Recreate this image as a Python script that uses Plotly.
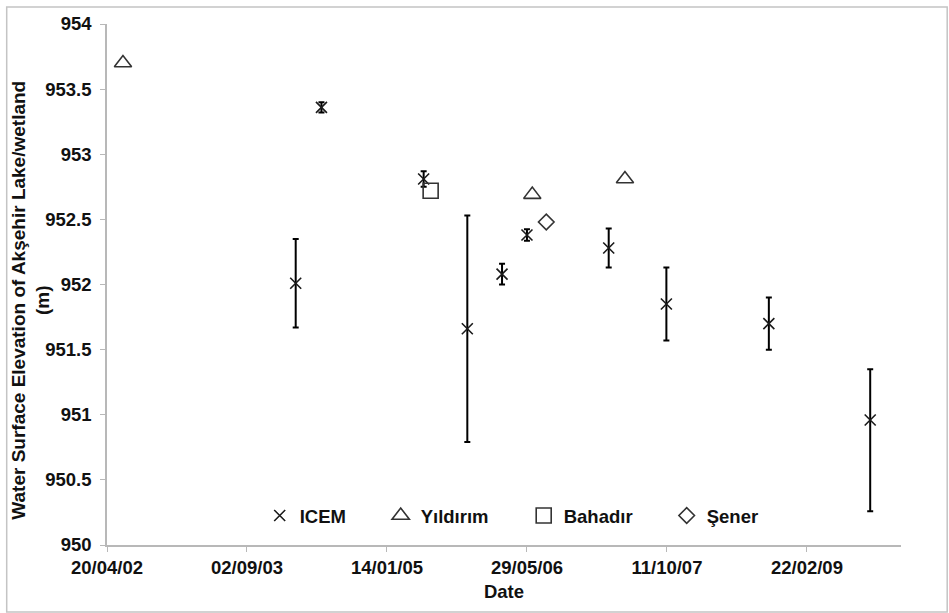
import plotly.graph_objects as go

# ---- data ----
icem_dates = ["2004-02-23", "2004-05-25", "2005-05-25", "2005-10-28", "2006-03-01",
              "2006-05-29", "2007-03-17", "2007-10-09", "2008-10-09", "2009-10-06"]
icem_values = [952.01, 953.36, 952.81, 951.66, 952.08, 952.38, 952.28, 951.85, 951.70, 950.96]
icem_err_plus = [0.34, 0.04, 0.06, 0.87, 0.08, 0.045, 0.15, 0.28, 0.20, 0.39]
icem_err_minus = [0.34, 0.04, 0.06, 0.87, 0.08, 0.045, 0.15, 0.28, 0.20, 0.70]

yildirim_dates = ["2002-06-16", "2006-06-17", "2007-05-14"]
yildirim_values = [953.70, 952.69, 952.81]

bahadir_dates = ["2005-06-19"]
bahadir_values = [952.72]

sener_dates = ["2006-08-06"]
sener_values = [952.48]

x_tick_dates = ["2002-04-20", "2003-09-02", "2005-01-14", "2006-05-29", "2007-10-11", "2009-02-22"]
x_tick_labels = ["20/04/02", "02/09/03", "14/01/05", "29/05/06", "11/10/07", "22/02/09"]
x_range = ["2002-04-20", "2010-01-24"]

y_tick_vals = [950, 950.5, 951, 951.5, 952, 952.5, 953, 953.5, 954]
y_tick_labels = ["950", "950.5", "951", "951.5", "952", "952.5", "953", "953.5", "954"]

FONT = "Liberation Sans, Arial, sans-serif"
FS = 18.5
DARK = "#1a1a1a"
TXT = "#111111"

fig = go.Figure()

fig.add_trace(go.Scatter(
    x=icem_dates, y=icem_values, mode="markers", name="ICEM", legend="legend",
    marker=dict(symbol="x-thin-open", size=11, color=DARK, line=dict(width=1.6, color=DARK)),
    error_y=dict(type="data", symmetric=False, array=icem_err_plus, arrayminus=icem_err_minus,
                 color="#000000", thickness=2, width=3),
))
fig.add_trace(go.Scatter(
    x=yildirim_dates, y=yildirim_values, mode="markers", name="Yıldırım", legend="legend2",
    marker=dict(symbol="triangle-up-open", size=15, color="#333333", line=dict(width=1.6, color="#333333")),
))
fig.add_trace(go.Scatter(
    x=bahadir_dates, y=bahadir_values, mode="markers", name="Bahadır", legend="legend3",
    marker=dict(symbol="square-open", size=15, color="#333333", line=dict(width=1.6, color="#333333")),
))
fig.add_trace(go.Scatter(
    x=sener_dates, y=sener_values, mode="markers", name="Şener", legend="legend4",
    marker=dict(symbol="diamond-open", size=12, color="#333333", line=dict(width=1.6, color="#333333")),
))

L, R, T, B = 107.3, 901.3, 24, 545
W, H = 949, 613
pw, ph = R - L, B - T


def px_x(px):
    return (px - L) / pw


def px_y(py):
    return (B - py) / ph


bold_font = dict(family=FONT, size=FS, color=TXT, weight="bold")

legend_common = dict(orientation="h", yanchor="middle", xanchor="left",
                     font=bold_font, bgcolor="rgba(0,0,0,0)", borderwidth=0)
leg_text_starts = [300, 421, 564, 707]
fig.update_layout(
    legend=dict(x=px_x(leg_text_starts[0] - 40), y=px_y(516), **legend_common),
    legend2=dict(x=px_x(leg_text_starts[1] - 40), y=px_y(516), **legend_common),
    legend3=dict(x=px_x(leg_text_starts[2] - 40), y=px_y(516), **legend_common),
    legend4=dict(x=px_x(leg_text_starts[3] - 40), y=px_y(516), **legend_common),
)

fig.update_xaxes(
    type="date", range=x_range, tickmode="array", tickvals=x_tick_dates, ticktext=x_tick_labels,
    showgrid=False, zeroline=False, showline=True, linecolor="#b8b8b8", linewidth=1.5,
    ticks="outside", ticklen=5, tickwidth=1.2, tickcolor="#b8b8b8",
    tickfont=bold_font,
    title=dict(text="Date", font=bold_font, standoff=8),
)
fig.update_yaxes(
    range=[950, 954], tickmode="array", tickvals=y_tick_vals, ticktext=y_tick_labels,
    showgrid=False, zeroline=False, showline=True, linecolor="#b8b8b8", linewidth=1.5,
    ticks="outside", ticklen=5, tickwidth=1.2, tickcolor="#b8b8b8",
    tickfont=bold_font, ticklabelstandoff=5,
)

fig.add_annotation(
    text="Water Surface Elevation of Akşehir Lake/wetland<br>(m)",
    xref="paper", yref="paper", x=px_x(31), y=px_y(300), xanchor="center", yanchor="middle",
    textangle=-90, showarrow=False, align="center",
    font=dict(family=FONT, size=19, color=TXT, weight="bold"),
)

fig.add_shape(type="rect", xref="paper", yref="paper",
              x0=px_x(7), x1=px_x(947.5), y0=px_y(612), y1=px_y(7),
              line=dict(color="#c4c4c4", width=1.5), fillcolor="rgba(0,0,0,0)", layer="below")

fig.update_layout(
    width=W, height=H,
    margin=dict(l=L, r=W - R, t=T, b=H - B, pad=0),
    paper_bgcolor="white", plot_bgcolor="white",
    font=dict(family=FONT, size=FS, color=TXT),
    showlegend=True,
)

fig.write_html("out.html", config={"displayModeBar": False},
               post_script="document.body.style.margin='0';")
